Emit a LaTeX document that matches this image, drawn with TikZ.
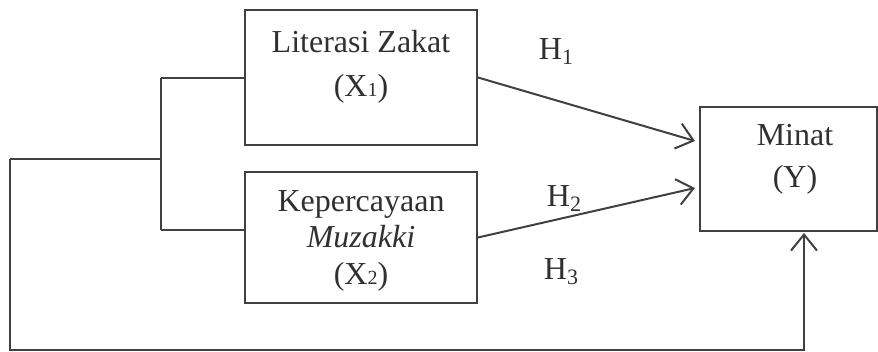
\documentclass[tikz,border=0pt]{standalone}
\usepackage{fontspec}
\setmainfont{Liberation Serif}
\usetikzlibrary{arrows.meta}
\definecolor{ln}{HTML}{404040}
\definecolor{tx}{HTML}{303030}
\begin{document}
\begin{tikzpicture}[x=1pt,y=-1pt,
  box/.style={draw=ln,line width=2pt,rectangle,inner sep=0pt},
  lbl/.style={anchor=base,inner sep=0pt,text=tx,font=\fontsize{32}{38}\selectfont},
  conn/.style={draw=ln,line width=2pt},
  arr/.style={conn,-{Straight Barb[length=16pt,width=26pt]}}]
\useasboundingbox (0,0) rectangle (878,352);
% boxes
\node[box,minimum width=232pt,minimum height=135pt] (x1) at (361,77.5) {};
\node[box,minimum width=232pt,minimum height=131pt] (x2) at (361,237.5) {};
\draw[conn] (700,107) rectangle (877,231);
\coordinate (yl) at (700,169);
% texts
\node[lbl] (t1) at (361,53) {Literasi Zakat};
\node[lbl] (t1b) at (361,97) {(X{\fontsize{20}{20}\selectfont 1})};
\node[lbl] (t2) at (361,212) {Kepercayaan};
\node[lbl] (t2b) at (361,248) {\itshape Muzakki};
\node[lbl] (t2c) at (361,285) {(X{\fontsize{20}{20}\selectfont 2})};
\node[lbl] (ty) at (795,146) {Minat};
\node[lbl] (tyb) at (795,188) {(Y)};
\node[lbl] (h1) at (556,60) {H\raisebox{-5pt}{\fontsize{22}{22}\selectfont 1}};
\node[lbl] (h2) at (564,207) {H\raisebox{-5pt}{\fontsize{22}{22}\selectfont 2}};
\node[lbl] (h3) at (561,280) {H\raisebox{-5pt}{\fontsize{22}{22}\selectfont 3}};
% tree connectors
\coordinate (j1) at (161,78);
\coordinate (j2) at (161,230);
\coordinate (jm) at (161,159);
\coordinate (l) at (10,159);
\coordinate (lb) at (10,350);
\coordinate (rb) at (804,350);
\coordinate (yt) at (804,233);
\coordinate (a1) at (695,141);
\coordinate (a2) at (695,188);
\draw[conn] (j1) -- (j2);
\draw[conn] (j1) -- (j1 -| x1.west);
\draw[conn] (j2) -- (j2 -| x2.west);
\draw[conn] (jm) -- (l);
\draw[arr] (l) -- (lb) -- (rb) -- (yt);
\draw[arr] (x1.east) -- (a1);
\draw[arr] (x2.east) -- (a2);
\end{tikzpicture}
\end{document}
